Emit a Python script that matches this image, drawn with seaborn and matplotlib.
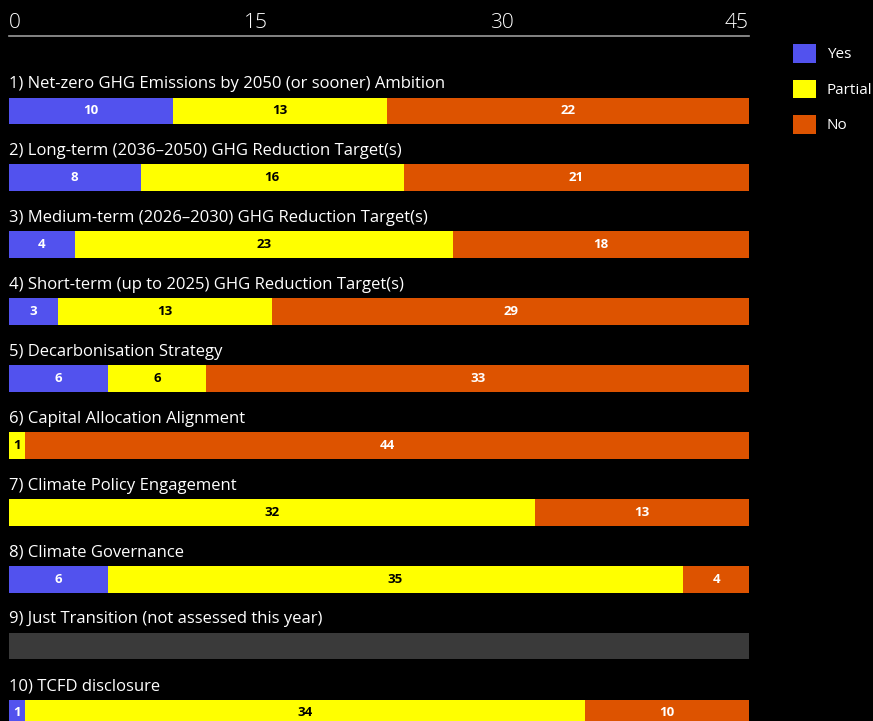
import matplotlib
matplotlib.use("Agg")
import matplotlib.pyplot as plt
from matplotlib.patches import Patch
import seaborn as sns
import numpy as np
import pandas as pd

titles = [
    "1) Net-zero GHG Emissions by 2050 (or sooner) Ambition",
    "2) Long-term (2036–2050) GHG Reduction Target(s)",
    "3) Medium-term (2026–2030) GHG Reduction Target(s)",
    "4) Short-term (up to 2025) GHG Reduction Target(s)",
    "5) Decarbonisation Strategy",
    "6) Capital Allocation Alignment",
    "7) Climate Policy Engagement",
    "8) Climate Governance",
    "9) Just Transition (not assessed this year)",
    "10) TCFD disclosure",
]
yes = [10, 8, 4, 3, 6, 0, 0, 6, 0, 1]
partial = [13, 16, 23, 13, 6, 1, 32, 35, 0, 34]
no = [22, 21, 18, 29, 33, 44, 13, 4, 0, 10]
not_assessed = [0, 0, 0, 0, 0, 0, 0, 0, 45, 0]
ticks = [0, 15, 30, 45]
series_names = ["Yes", "Partial", "No"]

C_YES = "#5252EE"
C_PART = "#FFFF00"
C_NO = "#DD5300"
C_NA = "#3A3A3A"

df = pd.DataFrame({"title": titles, "Yes": yes, "Partial": partial, "No": no, "NA": not_assessed})
df["cum_yp"] = df["Yes"] + df["Partial"]
df["cum_all"] = df["cum_yp"] + df["No"]

sns.set_style("dark")
plt.rcParams["font.family"] = ["Open Sans", "DejaVu Sans"]

fig = plt.figure(figsize=(8.73, 7.21), dpi=100, facecolor="black")
ax = fig.add_axes([9 / 873, 0.0, 740 / 873, 1 - 36 / 721])
ax.set_facecolor("black")

W = 0.40
common = dict(y="title", data=df, orient="h", width=W, saturation=1, errorbar=None,
              linewidth=0, ax=ax, order=titles)
sns.barplot(x="NA", color=C_NA, **common)
sns.barplot(x="cum_all", color=C_NO, **common)
sns.barplot(x="cum_yp", color=C_PART, **common)
sns.barplot(x="Yes", color=C_YES, **common)

ax.set_xlim(0, 45)
ax.set_ylim(9.12, -1.12)
ax.set_ylabel("")
ax.set_xlabel("")
ax.set_yticks([])
ax.xaxis.tick_top()
ax.set_xticks(ticks)
ax.set_xticklabels([str(t) for t in ticks], color="white", fontsize=15, fontweight="light")
labs = ax.get_xticklabels()
labs[0].set_horizontalalignment("left")
labs[-1].set_horizontalalignment("right")
ax.tick_params(axis="x", length=0, pad=2)
ax.grid(False)
for s in ["left", "right", "bottom"]:
    ax.spines[s].set_visible(False)
ax.spines["top"].set_visible(True)
ax.spines["top"].set_color("#9a9a9a")
ax.spines["top"].set_linewidth(1.2)

for i, t in enumerate(titles):
    ax.text(0, i - 0.40, t, color="white", fontsize=12, ha="left", va="center")
    left = 0
    for val, txtc in zip([yes[i], partial[i], no[i]], ["white", "black", "white"]):
        if val > 0:
            ax.text(left + val / 2, i, str(val), color=txtc, fontsize=9.5,
                    fontweight="bold", ha="center", va="center")
        left += val

handles = [Patch(facecolor=C_YES, edgecolor="none"),
           Patch(facecolor=C_PART, edgecolor="none"),
           Patch(facecolor=C_NO, edgecolor="none")]
leg = fig.legend(handles, series_names, loc="upper left",
                 bbox_to_anchor=(787 / 873, 1 - 38 / 721), frameon=False,
                 fontsize=11, labelcolor="white", handlelength=1.5, handleheight=1.5,
                 labelspacing=1.1, handletextpad=0.7, borderaxespad=0)

fig.savefig("out.png", dpi=100, facecolor="black")
